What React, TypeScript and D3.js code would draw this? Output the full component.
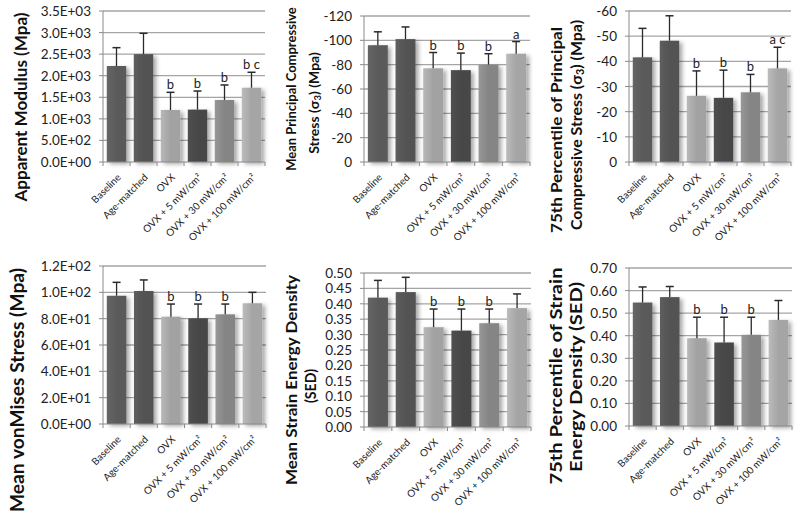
import React from "react";
import * as d3 from "d3";

const categories = ["Baseline", "Age-matched", "OVX", "OVX + 5 mW/cm²", "OVX + 30 mW/cm²", "OVX + 100 mW/cm²"];

// Panel 1: Apparent Modulus
const modulusMean = [2225, 2500, 1205, 1215, 1437, 1722];
const modulusSD = [425, 483, 410, 430, 348, 358];
const modulusLetters = ["", "", "b", "b", "b", "b c"];
const modulusTicks = [0, 500, 1000, 1500, 2000, 2500, 3000, 3500];
const modulusTickLabels = ["0.0E+00", "5.0E+02", "1.0E+03", "1.5E+03", "2.0E+03", "2.5E+03", "3.0E+03", "3.5E+03"];

// Panel 2: Mean Principal Compressive Stress
const mpcsMean = [-96, -101, -77, -75.5, -80, -89];
const mpcsSD = [11, 10, 13, 14, 9, 10];
const mpcsLetters = ["", "", "b", "b", "b", "a"];
const mpcsTicks = [0, -20, -40, -60, -80, -100, -120];
const mpcsTickLabels = ["0", "-20", "-40", "-60", "-80", "-100", "-120"];

// Panel 3: 75th Percentile of Principal Compressive Stress
const p75csMean = [-41.6, -48.2, -26.3, -25.5, -27.7, -37.2];
const p75csSD = [11.5, 9.9, 9.9, 11, 7.1, 8.4];
const p75csLetters = ["", "", "b", "b", "b", "a c"];
const p75csTicks = [0, -10, -20, -30, -40, -50, -60];
const p75csTickLabels = ["0", "-10", "-20", "-30", "-40", "-50", "-60"];

// Panel 4: Mean vonMises Stress
const vmMean = [97.4, 101, 81.5, 80.3, 83.3, 91.7];
const vmSD = [10.2, 8.4, 9.6, 10.8, 7.8, 8.3];
const vmLetters = ["", "", "b", "b", "b", ""];
const vmTicks = [0, 20, 40, 60, 80, 100, 120];
const vmTickLabels = ["0.0E+00", "2.0E+01", "4.0E+01", "6.0E+01", "8.0E+01", "1.0E+02", "1.2E+02"];

// Panel 5: Mean Strain Energy Density
const sedMean = [0.42, 0.438, 0.324, 0.313, 0.337, 0.386];
const sedSD = [0.056, 0.048, 0.059, 0.07, 0.046, 0.046];
const sedLetters = ["", "", "b", "b", "b", ""];
const sedTicks = [0, 0.05, 0.1, 0.15, 0.2, 0.25, 0.3, 0.35, 0.4, 0.45, 0.5];
const sedTickLabels = ["0.00", "0.05", "0.10", "0.15", "0.20", "0.25", "0.30", "0.35", "0.40", "0.45", "0.50"];

// Panel 6: 75th Percentile of SED
const p75sedMean = [0.547, 0.571, 0.389, 0.37, 0.404, 0.47];
const p75sedSD = [0.069, 0.047, 0.093, 0.112, 0.078, 0.086];
const p75sedLetters = ["", "", "b", "b", "b", ""];
const p75sedTicks = [0, 0.1, 0.2, 0.3, 0.4, 0.5, 0.6, 0.7];
const p75sedTickLabels = ["0.00", "0.10", "0.20", "0.30", "0.40", "0.50", "0.60", "0.70"];

const barColors = ["#5a5a5a", "#535353", "#a2a2a2", "#474747", "#858585", "#a5a5a5"];

type TitleLine = { parts: { t: string; sub?: boolean }[]; x: number; y: number; len: number; fs: number };

const panels = [
  { mean: modulusMean, sd: modulusSD, letters: modulusLetters, ticks: modulusTicks, tickLabels: modulusTickLabels,
    left: 103, right: 265, top: 11, bottom: 162,
    title: [{ parts: [{ t: "Apparent Modulus (Mpa)" }], x: 20, y: 107, len: 189, fs: 17 }] as TitleLine[] },
  { mean: mpcsMean, sd: mpcsSD, letters: mpcsLetters, ticks: mpcsTicks, tickLabels: mpcsTickLabels,
    left: 364, right: 530, top: 16, bottom: 162,
    title: [
      { parts: [{ t: "Mean Principal Compressive" }], x: 291, y: 89, len: 0, fs: 13 },
      { parts: [{ t: "Stress (σ" }, { t: "3", sub: true }, { t: ") (Mpa)" }], x: 313, y: 103, len: 0, fs: 14 },
    ] as TitleLine[] },
  { mean: p75csMean, sd: p75csSD, letters: p75csLetters, ticks: p75csTicks, tickLabels: p75csTickLabels,
    left: 629, right: 791, top: 11, bottom: 162,
    title: [
      { parts: [{ t: "75th Percentile of Principal" }], x: 555, y: 130, len: 206, fs: 16 },
      { parts: [{ t: "Compressive Stress (σ" }, { t: "3", sub: true }, { t: ") (Mpa)" }], x: 575, y: 125, len: 210, fs: 16 },
    ] as TitleLine[] },
  { mean: vmMean, sd: vmSD, letters: vmLetters, ticks: vmTicks, tickLabels: vmTickLabels,
    left: 103, right: 266, top: 266, bottom: 424,
    title: [{ parts: [{ t: "Mean vonMises Stress (Mpa)" }], x: 17, y: 390, len: 244, fs: 18 }] as TitleLine[] },
  { mean: sedMean, sd: sedSD, letters: sedLetters, ticks: sedTicks, tickLabels: sedTickLabels,
    left: 364, right: 531, top: 273, bottom: 427,
    title: [
      { parts: [{ t: "Mean Strain Energy Density" }], x: 290, y: 380, len: 210, fs: 16 },
      { parts: [{ t: "(SED)" }], x: 309, y: 386, len: 34, fs: 16 },
    ] as TitleLine[] },
  { mean: p75sedMean, sd: p75sedSD, letters: p75sedLetters, ticks: p75sedTicks, tickLabels: p75sedTickLabels,
    left: 629, right: 792, top: 268, bottom: 426,
    title: [
      { parts: [{ t: "75th Percentile of Strain" }], x: 555, y: 376, len: 217, fs: 17 },
      { parts: [{ t: "Energy Density (SED)" }], x: 575, y: 377, len: 190, fs: 17 },
    ] as TitleLine[] },
];

const FONT = "Lato, 'Open Sans', sans-serif";

function Panel({ p }: { p: typeof panels[number] }) {
  const maxV = p.ticks[p.ticks.length - 1];
  const y = d3.scaleLinear().domain([0, maxV]).range([p.bottom, p.top]);
  const x = d3.scaleBand<string>().domain(categories).range([p.left, p.right]).paddingInner(0.28).paddingOuter(0.14);
  const step = x.step();
  const bounds = d3.range(categories.length + 1).map((i) => p.left + i * step);
  return (
    <g>
      {p.ticks.map((t, i) => (
        <g key={"t" + i}>
          {i > 0 && <line x1={p.left} x2={p.right} y1={y(t)} y2={y(t)} stroke="#a5a5a5" strokeWidth={1.3} />}
          <line x1={p.left - 4} x2={p.left} y1={y(t)} y2={y(t)} stroke="#8a8a8a" strokeWidth={1} />
          <text x={p.left - 12} y={y(t)} textAnchor="end" dominantBaseline="central" fontSize={13.5} fill="#222" fontFamily={FONT}>
            {p.tickLabels[i]}
          </text>
        </g>
      ))}
      <line x1={p.left} x2={p.left} y1={p.top} y2={p.bottom} stroke="#8a8a8a" strokeWidth={1} />
      {categories.map((c, i) => {
        const m = p.mean[i];
        const sign = m < 0 ? -1 : 1;
        const topV = m + sign * p.sd[i];
        const bx = x(c)!;
        const bw = x.bandwidth();
        const cx = bx + bw / 2;
        return (
          <g key={c}>
            <rect x={bx} y={y(m)} width={bw} height={p.bottom - y(m)} fill={`url(#grad${i})`} filter="url(#shadow)" />
            <line x1={cx} x2={cx} y1={y(m)} y2={y(topV)} stroke="#2a2a2a" strokeWidth={1.3} />
            <line x1={cx - 4} x2={cx + 4} y1={y(topV)} y2={y(topV)} stroke="#2a2a2a" strokeWidth={1.5} />
            {p.letters[i] && (
              <text x={cx} y={y(topV) - 3} textAnchor="middle" fontSize={13} fill="#222" fontFamily={FONT}>
                {p.letters[i]}
              </text>
            )}
            <text
              transform={`translate(${cx + 5},${p.bottom + 16}) rotate(-45)`}
              textAnchor="end"
              fontSize={10}
              fill="#222"
              fontFamily={FONT}
            >
              {c}
            </text>
          </g>
        );
      })}
      <line x1={p.left} x2={p.right} y1={p.bottom} y2={p.bottom} stroke="#8a8a8a" strokeWidth={1.2} />
      {bounds.map((bx, i) => (
        <line key={"b" + i} x1={bx} x2={bx} y1={p.bottom} y2={p.bottom + 4} stroke="#8a8a8a" strokeWidth={1} />
      ))}
      {p.title.map((tl, i) => (
        <text
          key={"ti" + i}
          transform={`translate(${tl.x},${tl.y}) rotate(-90)`}
          textAnchor="middle"
          dominantBaseline="central"
          fontSize={tl.fs}
          fontWeight="bold"
          fill="#111"
          fontFamily={FONT}
          {...(tl.len > 0 ? { textLength: tl.len, lengthAdjust: "spacingAndGlyphs" } : {})}
        >
          {tl.parts.map((pt, j) =>
            pt.sub ? (
              <tspan key={j} fontSize={tl.fs * 0.68} dy={4}>{pt.t}</tspan>
            ) : (
              <tspan key={j} dy={j > 0 && tl.parts[j - 1].sub ? -4 : 0}>{pt.t}</tspan>
            )
          )}
        </text>
      ))}
    </g>
  );
}

export default function App() {
  return (
    <svg width={800} height={523} style={{ position: "absolute", left: 0, top: 0, background: "#fff" }}>
      <defs>
        {barColors.map((c, i) => {
          const light = d3.color(c)!.brighter(0.35).formatHex();
          return (
            <linearGradient key={i} id={`grad${i}`} x1="0" x2="1" y1="0" y2="0">
              <stop offset="0" stopColor={light} />
              <stop offset="0.5" stopColor={c} />
              <stop offset="1" stopColor={c} />
            </linearGradient>
          );
        })}
        <filter id="shadow" x="-30%" y="-10%" width="170%" height="130%">
          <feDropShadow dx={3} dy={2} stdDeviation={2} floodColor="#000" floodOpacity={0.35} />
        </filter>
      </defs>
      <rect width={800} height={523} fill="#fff" />
      {panels.map((p, i) => (
        <Panel key={i} p={p} />
      ))}
    </svg>
  );
}
